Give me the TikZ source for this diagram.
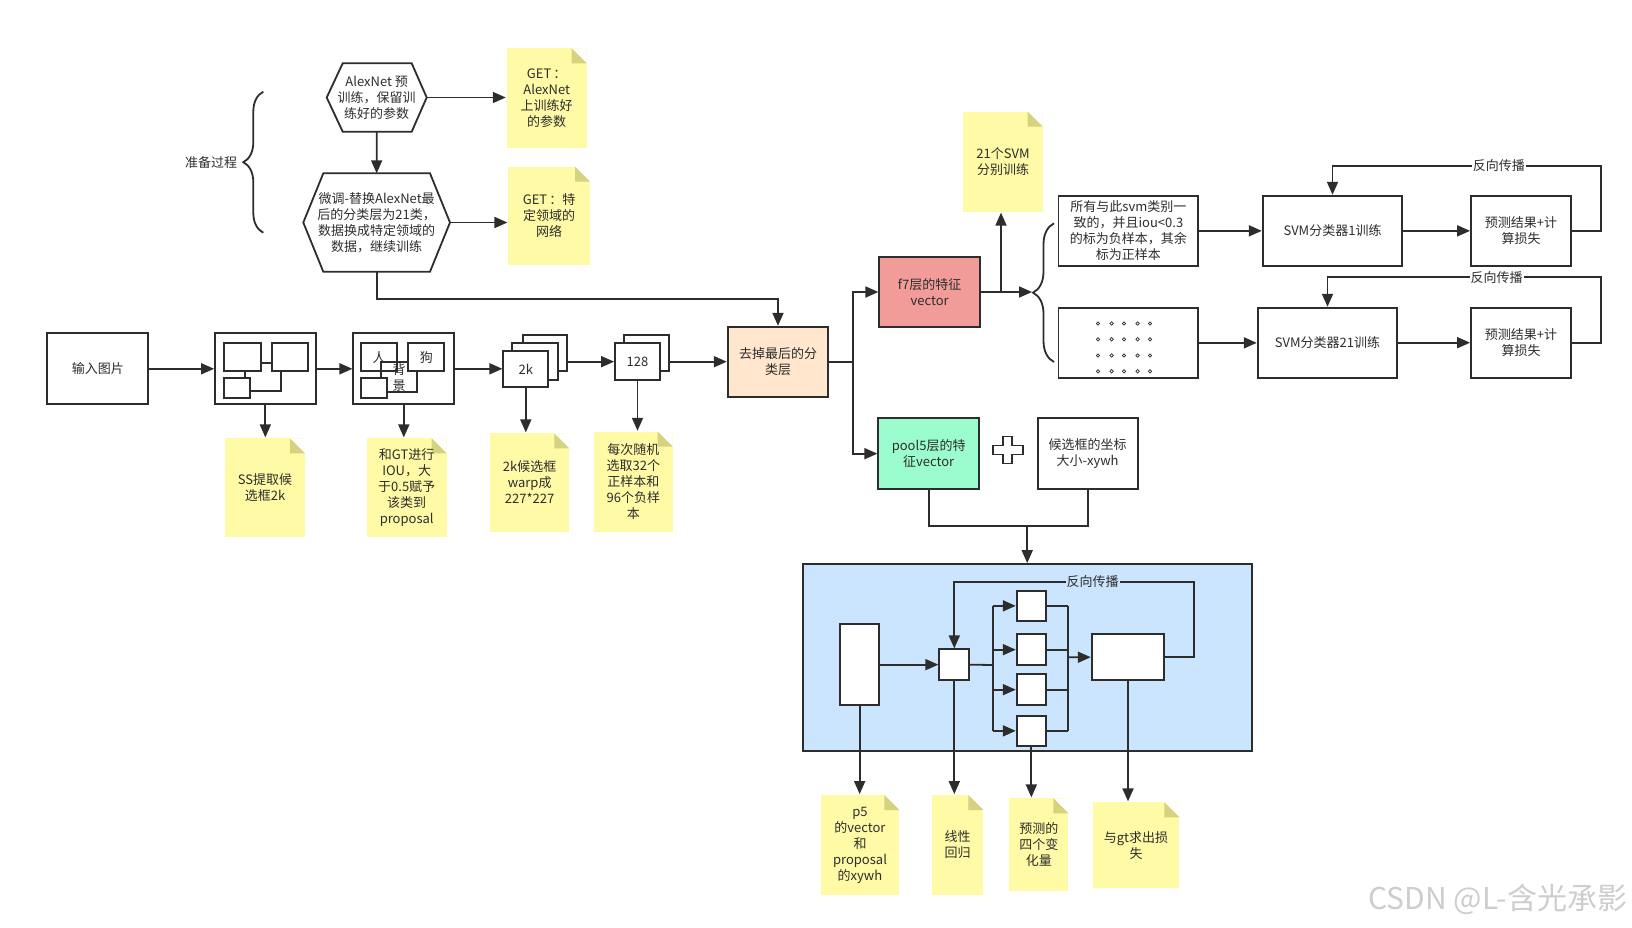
\documentclass[tikz,border=0pt]{standalone}
\usepackage{fontspec}
\setmainfont{Noto Sans CJK SC}
\usetikzlibrary{arrows.meta,decorations.pathreplacing,calc}
\definecolor{ink}{RGB}{45,45,45}
\definecolor{notecol}{RGB}{255,250,165}
\definecolor{foldcol}{RGB}{214,210,128}
\definecolor{peach}{RGB}{255,230,204}
\definecolor{rosy}{RGB}{241,156,153}
\definecolor{mint}{RGB}{155,252,205}
\definecolor{skyfill}{RGB}{204,229,255}
\definecolor{wmark}{RGB}{205,205,205}
\newcommand\fs{\fontsize{13}{16}\selectfont}
% rectangle node given by its corners: [style]{name}{x1}{y1}{x2}{y2}{text}
\newcommand\boxat[7][]{%
  \pgfmathsetmacro\bcx{(#3+#5)/2}%
  \pgfmathsetmacro\bcy{(#4+#6)/2}%
  \pgfmathsetmacro\bw{#5-#3}%
  \pgfmathsetmacro\bh{#6-#4}%
  \node[#1,minimum width=\bw pt,minimum height=\bh pt] (#2) at (\bcx,\bcy) {#7};}
\begin{document}
\begin{tikzpicture}[x=1pt,y=-1pt,line width=1.8pt,color=ink,
  txt/.style={align=center,font=\fs,text=ink,inner sep=1pt},
  blk/.style={txt,draw=ink,fill=white},
  note/.style={txt,fill=notecol,path picture={
      \fill[white] (path picture bounding box.north east) -- ++(-15pt,0pt) -- ++(15pt,-15pt) -- cycle;
      \fill[foldcol] ([xshift=-15pt]path picture bounding box.north east) -- ++(0pt,-15pt) -- ++(15pt,0pt) -- cycle;}},
  arr/.style={-{Triangle[length=13pt,width=11pt]}},
  lbl/.style={font=\fs,text=ink,fill=white,inner sep=1pt},
  hexa/.style={txt,outer sep=0pt}]
\useasboundingbox (0,0) rectangle (1632,927);

% ---------- preparation stage ----------
\boxat[hexa]{h1}{326.7}{63.3}{426.7}{131.7}{AlexNet 预\\训练，保留训\\练好的参数}
\draw (h1.west) -- ([xshift=16pt]h1.north west) -- ([xshift=-15pt]h1.north east) -- (h1.east)
      -- ([xshift=-15pt]h1.south east) -- ([xshift=16pt]h1.south west) -- cycle;
\boxat[hexa]{h2}{303.3}{173.3}{450}{271.7}{微调-替换AlexNet最\\后的分类层为21类，\\数据换成特定领域的\\数据，继续训练}
\draw (h2.west) -- ([xshift=20pt]h2.north west) -- ([xshift=-20pt]h2.north east) -- (h2.east)
      -- ([xshift=-20pt]h2.south east) -- ([xshift=20pt]h2.south west) -- cycle;
\boxat[note]{n1}{506.7}{48.3}{586.7}{148.3}{GET\,：\\AlexNet\\上训练好\\的参数}
\boxat[note]{n2}{508.3}{166.7}{590}{265}{GET\,：特\\定领域的\\网络}
\draw[decorate,decoration={brace,amplitude=20pt}] (263.3,232.7) -- (263.3,91.7);
\node[txt] (prep) at (211,163) {准备过程};

% ---------- main pipeline ----------
\boxat[blk]{inp}{47.3}{333.3}{148.3}{404.3}{输入图片}
\boxat[blk]{ss}{215}{333.3}{315.7}{404.3}{}
\boxat[blk]{ssc}{245}{363.3}{281}{391}{}
\boxat[blk]{ssa}{224.3}{343.3}{261}{371}{}
\boxat[blk]{ssb}{271.7}{343.3}{308.3}{371}{}
\boxat[blk]{ssd}{224.3}{377.7}{250}{398.3}{}

\boxat[blk]{gt}{353.3}{333.3}{454.3}{404.3}{}
\boxat[txt,draw=ink]{gtbg}{380.7}{363.3}{417.3}{391}{背\\景}
\boxat[txt,draw=ink]{gtman}{360.7}{343.3}{397.3}{371}{人}
\boxat[blk]{gtdog}{408.3}{343.3}{444.3}{371}{狗}
\boxat[blk]{gtsm}{360.7}{377.7}{386.7}{398.3}{}

\boxat[blk]{s2kb}{522.7}{335}{567.3}{371}{}
\boxat[blk]{s2km}{512.3}{343.3}{557.7}{380}{}
\boxat[blk]{s2kf}{503.3}{350.7}{548.3}{387.3}{2k}
\boxat[blk]{s128b}{624.3}{335}{669.3}{371}{}
\boxat[blk]{s128f}{615}{343.3}{660}{380}{128}

\boxat[note]{nss}{225}{438.3}{305}{536.7}{SS提取候\\选框2k}
\boxat[note]{niou}{366.7}{438.3}{446.7}{536.7}{和GT进行\\IOU，大\\于0.5赋予\\该类到\\proposal}
\boxat[note]{n2k}{490}{433.3}{569.3}{531.7}{2k候选框\\warp成\\227*227}
\boxat[note]{n128}{594}{431.7}{672.7}{531.7}{每次随机\\选取32个\\正样本和\\96个负样\\本}

\boxat[blk,fill=peach]{drop}{727.7}{326.7}{828.3}{396.7}{去掉最后的分\\类层}
\boxat[blk,fill=rosy]{f7}{879.3}{256.7}{980}{327.3}{f7层的特征\\vector}
\boxat[blk,fill=mint]{pool5}{878.3}{418.3}{979}{489}{pool5层的特\\征vector}
\boxat[blk]{cand}{1037.7}{418.3}{1137.6}{489}{候选框的坐标\\大小-xywh}
\boxat[note]{nsvm}{963.3}{111.7}{1042.7}{211.7}{21个SVM\\分别训练}

% plus sign between the two feature boxes
\draw[fill=white,line width=1.6pt] (1003.2,436.5) -- (1012.2,436.5) -- (1012.2,445.5) -- (1022.7,445.5)
  -- (1022.7,454.5) -- (1012.2,454.5) -- (1012.2,463.5) -- (1003.2,463.5) -- (1003.2,454.5)
  -- (992.7,454.5) -- (992.7,445.5) -- (1003.2,445.5) -- cycle;

% ---------- SVM training ----------
\boxat[blk]{all}{1058.5}{195.7}{1198.3}{266}{所有与此svm类别一\\致的，并且iou<0.3\\的标为负样本，其余\\标为正样本}
\boxat[blk]{dots}{1058.5}{308}{1198.3}{377.7}{}
\foreach \dx in {1098,1111.6,1124,1137.6,1150}
  \foreach \dy in {323.5,339.3,355.5,371.3}
    \draw[line width=0.7pt] (\dx,\dy) circle (1.7pt);
\boxat[blk]{svm1}{1262.7}{195.7}{1402.3}{266}{SVM分类器1训练}
\boxat[blk]{pred1}{1471}{195.7}{1571}{266}{预测结果+计\\算损失}
\boxat[blk]{svm21}{1257.7}{307.7}{1397.3}{377.7}{SVM分类器21训练}
\boxat[blk]{pred21}{1471}{307.7}{1571}{377.7}{预测结果+计\\算损失}
\draw[decorate,decoration={brace,amplitude=21pt}] (1054,362) -- (1054,223.3);

% ---------- bounding-box regression ----------
\boxat[blk,fill=skyfill]{blue}{802.7}{564}{1251.7}{751}{}
\boxat[blk]{tall}{840}{624.3}{879.3}{705}{}
\boxat[blk]{sq}{939.3}{649.3}{969.3}{680}{}
\boxat[blk]{b1}{1016.7}{590.7}{1046}{621}{}
\boxat[blk]{b2}{1016.7}{634.3}{1046}{665}{}
\boxat[blk]{b3}{1016.7}{674.3}{1046}{705}{}
\boxat[blk]{b4}{1016.7}{715.7}{1046}{746}{}
\boxat[blk]{big}{1091.7}{634.3}{1164.3}{680}{}

\boxat[note]{np5}{820.7}{795}{899.3}{895}{p5\\的vector\\和\\proposal\\的xywh}
\boxat[note]{nlin}{931.7}{795}{983.3}{895}{线性\\回归}
\boxat[note]{npr}{1009.3}{798.3}{1068.3}{890.7}{预测的\\四个变\\化量}
\boxat[note]{ngt}{1092.7}{802.3}{1179.3}{888.3}{与gt求出损\\失}

% ---------- connectors ----------
\draw[arr] (h1.east) -- (h1.east -| n1.west);
\draw[arr] (h1.south) -- (h2.north);
\draw[arr] (h2.east) -- (h2.east -| n2.west);
\coordinate (turn) at (778,299.3);
\draw[arr] (h2.south) |- (turn) -- (drop.north);

\draw[arr] (inp.east) -- (ss.west);
\draw[arr] (ss.east) -- (gt.west);
\draw[arr] (ss.south) -- (ss.south |- nss.north);
\draw[arr] (gt.south) -- (gt.south |- niou.north);
\draw[arr] (gt.east) -- (gt.east -| s2kf.west);
\draw[arr] (s128f.west -| s2kb.east) -- (s128f.west);
\draw[arr] (s2kf.south) -- (s2kf.south |- n2k.north);
\draw[arr] (drop.west -| s128b.east) -- (drop.west);
\draw[arr] (s128f.south) -- (s128f.south |- n128.north);

\coordinate (fork) at (853.3,361.7);
\draw (drop.east) -- (fork);
\draw[arr] (fork) |- (f7.west);
\draw[arr] (fork) |- (pool5.west);
\coordinate (tipb) at (1032,292);
\draw[arr] (f7.east) -- (tipb);
\coordinate (upj) at (1001,292);
\draw[arr] (upj) -- (upj |- nsvm.south);

\draw[arr] (all.east) -- (svm1.west);
\draw[arr] (svm1.east) -- (pred1.west);
\coordinate (fb1) at (1601,165.7);
\draw[arr] (pred1.east) -| (fb1) -| (svm1.north);
\node[lbl] (lb1) at (1498.8,165.7) {反向传播};
\draw[arr] (dots.east) -- (dots.east -| svm21.west);
\draw[arr] (svm21.east) -- (pred21.west);
\coordinate (fb2) at (1601,277.3);
\draw[arr] (pred21.east) -| (fb2) -| (svm21.north);
\node[lbl] (lb2) at (1496.7,277.3) {反向传播};

\coordinate (jn) at (1027.2,525.6);
\draw (pool5.south) |- (jn);
\draw (cand.south) |- (jn);
\draw[arr] (jn) -- (blue.north);

\draw[arr] (tall.east) -- (sq.west);
\coordinate (sp) at (992.7,665);
\draw (sq.east) -- (sp);
\draw (sp |- b1.west) -- (sp |- b4.west);
\foreach \bb in {b1,b2,b3,b4} \draw[arr] (sp |- \bb.west) -- (\bb.west);
\coordinate (mg) at (1068.3,657.3);
\foreach \bb in {b1,b2,b3,b4} \draw (\bb.east) -- (mg |- \bb.east);
\draw (mg |- b1.east) -- (mg |- b4.east);
\draw[arr] (mg) -- (big.west);
\coordinate (fb3) at (1194.3,581.7);
\draw[arr] (big.east) -| (fb3) -| (sq.north);
\node[lbl,fill=skyfill] (lb3) at (1092.5,581.7) {反向传播};

\draw[arr] (tall.south) -- (tall.south |- np5.north);
\draw[arr] (sq.south) -- (sq.south |- nlin.north);
\draw[arr] (b4.south) -- (b4.south |- npr.north);
\draw[arr] (big.south) -- (big.south |- ngt.north);

\node[anchor=east,font=\fontsize{30}{30}\selectfont,text=wmark,inner sep=0pt] (wm) at (1628,899) {CSDN @L-含光承影};
\end{tikzpicture}
\end{document}
